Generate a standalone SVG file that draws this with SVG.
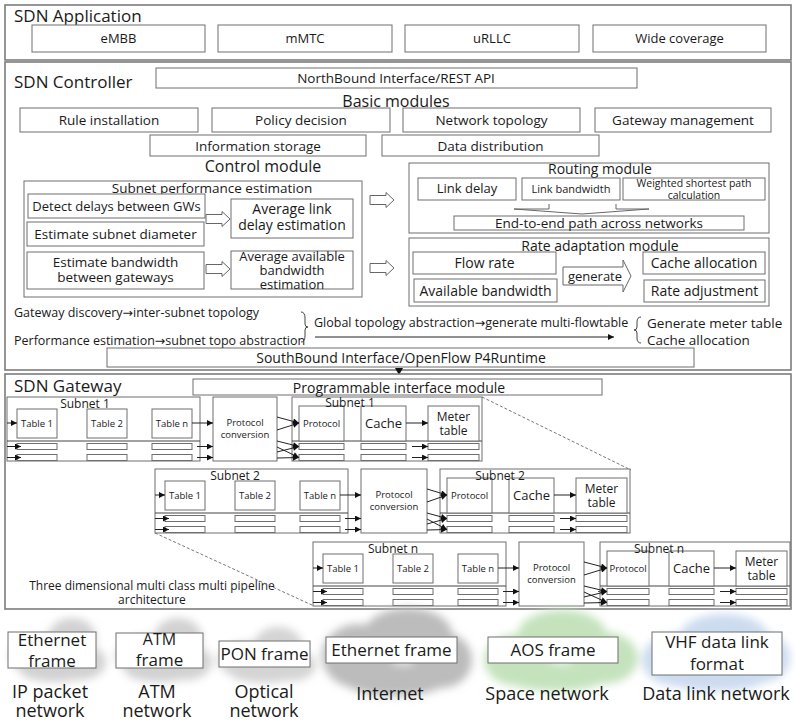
<svg xmlns="http://www.w3.org/2000/svg" width="796" height="724" viewBox="0 0 796 724">
<defs>
<style>
.t{font-family:"Open Sans","Noto Sans","DejaVu Sans",sans-serif;fill:#1a1a1a}
.m{text-anchor:middle}
.s9{font-size:9.5px}.s105{font-size:10.5px}.s11{font-size:11px}.s12{font-size:12px}.s125{font-size:12.5px}.s13{font-size:13px}.s135{font-size:13.5px}.s14{font-size:14px}.s16{font-size:16px}.s17{font-size:17px}.s18{font-size:18px}
.b{fill:#fff;stroke:#6e6e6e;stroke-width:1}
.panel{fill:#fff;stroke:#7c7c7c;stroke-width:1.6}
.ln{fill:none;stroke:#444;stroke-width:1}
.ar{fill:none;stroke:#222;stroke-width:1;marker-end:url(#ah)}
.hol{fill:#fff;stroke:#666;stroke-width:1}
.dash{fill:none;stroke:#777;stroke-width:1;stroke-dasharray:3 2}
</style>
<marker id="ah" viewBox="0 0 8 8" refX="8" refY="4" markerWidth="7" markerHeight="6" markerUnits="userSpaceOnUse" orient="auto"><path d="M0,0 L8,4 L0,8 Z" fill="#111"/></marker>
<path id="hollow" d="M0,-4.5 H16 V-7.5 L24,0 L16,7.5 V4.5 H0 Z"/>
<filter id="blur" x="-30%" y="-30%" width="160%" height="160%"><feGaussianBlur stdDeviation="4"/></filter>
</defs>
<rect width="796" height="724" fill="#fff"/>

<!-- SDN Application -->
<g id="sdn-application">
<rect class="panel" x="5" y="5" width="786" height="55"/>
<text class="t s17" x="14" y="22">SDN Application</text>
<g id="app-embb"><rect class="b" x="32" y="25" width="173" height="27"/><text class="t s13 m" x="118.5" y="43">eMBB</text></g>
<g id="app-mmtc"><rect class="b" x="218" y="25" width="174" height="27"/><text class="t s13 m" x="305" y="43">mMTC</text></g>
<g id="app-urllc"><rect class="b" x="405" y="25" width="174" height="27"/><text class="t s13 m" x="492" y="43">uRLLC</text></g>
<g id="app-wide"><rect class="b" x="593" y="25" width="173" height="27"/><text class="t s13 m" x="679.5" y="43">Wide coverage</text></g>
</g>

<!-- SDN Controller -->
<g id="sdn-controller">
<rect class="panel" x="5" y="62" width="786" height="308"/>
<text class="t s17" x="14" y="88">SDN Controller</text>
<g id="northbound"><rect class="b" x="156" y="68" width="481" height="20"/><text class="t s135 m" x="396" y="83">NorthBound Interface/REST API</text></g>
<text class="t s16 m" x="396" y="107">Basic modules</text>
<g id="rule-installation"><rect class="b" x="20" y="108" width="178" height="24"/><text class="t s135 m" x="109" y="125">Rule installation</text></g>
<g id="policy-decision"><rect class="b" x="212" y="108" width="178" height="24"/><text class="t s135 m" x="301" y="125">Policy decision</text></g>
<g id="network-topology"><rect class="b" x="403" y="108" width="177" height="24"/><text class="t s135 m" x="491.5" y="125">Network topology</text></g>
<g id="gateway-management"><rect class="b" x="595" y="108" width="176" height="24"/><text class="t s135 m" x="683" y="125">Gateway management</text></g>
<g id="information-storage"><rect class="b" x="150" y="135" width="216" height="21"/><text class="t s135 m" x="258" y="151">Information storage</text></g>
<g id="data-distribution"><rect class="b" x="382" y="135" width="217" height="21"/><text class="t s135 m" x="490.5" y="151">Data distribution</text></g>
<text class="t s16 m" x="263" y="172">Control module</text>

<g id="subnet-perf">
<rect class="b" x="24" y="181" width="338" height="116"/>
<text class="t s135 m" x="212" y="193">Subnet performance estimation</text>
<g id="detect-delays"><rect class="b" x="28" y="194" width="177" height="24"/><text class="t s13 m" x="116.5" y="211">Detect delays between GWs</text></g>
<g id="estimate-diameter"><rect class="b" x="27" y="222" width="177" height="24"/><text class="t s135 m" x="115.5" y="239">Estimate subnet diameter</text></g>
<g id="estimate-bandwidth"><rect class="b" x="27" y="252" width="177" height="37"/><text class="t s135 m" x="115.5" y="267">Estimate bandwidth</text><text class="t s135 m" x="115.5" y="282">between gateways</text></g>
<g id="avg-link-delay"><rect class="b" x="231" y="199" width="122" height="39"/><text class="t s14 m" x="292" y="214">Average link</text><text class="t s14 m" x="292" y="230">delay estimation</text></g>
<g id="avg-bandwidth"><rect class="b" x="231" y="251" width="122" height="38"/><text class="t s13 m" x="292" y="261">Average available</text><text class="t s13 m" x="292" y="275">bandwidth</text><text class="t s13 m" x="292" y="289">estimation</text></g>
</g>

<g id="routing-module">
<rect class="b" x="409" y="163" width="360" height="70"/>
<text class="t s14 m" x="600" y="174">Routing module</text>
<g id="link-delay"><rect class="b" x="418" y="178" width="98" height="22"/><text class="t s13 m" x="467" y="193">Link delay</text></g>
<g id="link-bandwidth"><rect class="b" x="522" y="178" width="98" height="22"/><text class="t s11 m" x="571" y="193">Link bandwidth</text></g>
<g id="weighted-path"><rect class="b" x="623" y="178" width="142" height="22"/><text class="t s105 m" x="694" y="187">Weighted shortest path</text><text class="t s105 m" x="694" y="199">calculation</text></g>
<g id="end-to-end"><rect class="b" x="454" y="216" width="290" height="14"/><text class="t s135 m" x="599" y="228">End-to-end path across networks</text></g>
</g>

<g id="rate-adaptation">
<rect class="b" x="409" y="238" width="360" height="68"/>
<text class="t s14 m" x="600" y="251">Rate adaptation module</text>
<g id="flow-rate"><rect class="b" x="413" y="252" width="143" height="22"/><text class="t s14 m" x="484.5" y="268">Flow rate</text></g>
<g id="available-bandwidth"><rect class="b" x="414" y="279" width="143" height="23"/><text class="t s14 m" x="485.5" y="296">Available bandwidth</text></g>
<g id="cache-allocation"><rect class="b" x="643" y="252" width="122" height="22"/><text class="t s14 m" x="704" y="268">Cache allocation</text></g>
<g id="rate-adjustment"><rect class="b" x="644" y="280" width="121" height="22"/><text class="t s14 m" x="704.5" y="296">Rate adjustment</text></g>
</g>

<g id="southbound"><rect class="b" x="107" y="348" width="587" height="19"/><text class="t s14 m" x="401" y="363">SouthBound Interface/OpenFlow P4Runtime</text></g>

<g id="controller-notes">
<text class="t s125" x="14" y="317">Gateway discovery→inter-subnet topology</text>
<text class="t s125" x="14" y="345">Performance estimation→subnet topo abstraction</text>
<text class="t s125" x="314" y="327">Global topology abstraction→generate multi-flowtable</text>
<text class="t s135" x="647" y="328">Generate meter table</text>
<text class="t s135" x="647" y="345">Cache allocation</text>
</g>
</g>

<!-- Controller connectors -->
<g id="controller-connectors">
<use href="#hollow" class="hol" x="206" y="219"/>
<use href="#hollow" class="hol" x="206" y="269"/>
<use href="#hollow" class="hol" x="370" y="200"/>
<use href="#hollow" class="hol" x="370" y="268"/>
<path class="hol" d="M549,204 V209 H514 L582,214 L649,209 H616 V204"/>
<path class="hol" d="M563,267 H623 V260 L631,276 L623,292 V285 H563 Z"/>
<text class="t s13 m" x="595" y="281">generate</text>
<path class="ln" d="M301,312 Q305,312 305,318 V324 Q305,327 308,327 Q305,327 305,330 V336 Q305,342 301,342" stroke="#111"/>
<path class="ln" d="M641,317 Q637,317 637,322 V327 Q637,330 634,330 Q637,330 637,333 V338 Q637,343 641,343" stroke="#111"/>
<path class="ar" d="M315,337 H614"/>
<path d="M395,368 L403,368 L399,375 Z" fill="#111"/>
</g>

<!-- SDN Gateway -->
<g id="sdn-gateway">
<rect class="panel" x="5" y="374" width="786" height="235"/>
<text class="t s17" x="14" y="392">SDN Gateway</text>
<g id="programmable-interface"><rect class="b" x="193" y="379" width="409" height="16"/><text class="t s14 m" x="399" y="393">Programmable interface module</text></g>
<text class="t s12 m" x="152" y="590">Three dimensional multi class multi pipeline</text>
<text class="t s12 m" x="152" y="604">architecture</text>
</g>

<g id="gateway-dashes">
<path class="dash" d="M482,397 L631,470"/>
<path class="dash" d="M155,533 L314,606"/>
</g>

<!-- Pipeline 1 -->
<g id="pipeline-1" transform="translate(7,397)">
<g id="p1-connectors">
<path class="ln" d="M0,49.5 H206 M0,60.5 H206 M285,49.5 H475 M285,60.5 H475"/>
<path class="ln" d="M50,26 H80 M120,26 H145 M337,26 H354"/>
</g>
<g id="p1-left"><rect class="b" x="0" y="0" width="193" height="64"/><path class="ln" d="M0,44 H193"/><text class="t s12 m" x="78" y="11">Subnet 1</text>
<rect class="b" x="10" y="12" width="40" height="29"/><text class="t s9 m" x="30" y="30">Table 1</text>
<rect class="b" x="80" y="12" width="40" height="29"/><text class="t s9 m" x="100" y="30">Table 2</text>
<rect class="b" x="145" y="12" width="40" height="29"/><text class="t s9 m" x="165" y="30">Table n</text>
<rect class="b" x="10" y="46.5" width="40" height="6"/><rect class="b" x="80" y="46.5" width="40" height="6"/><rect class="b" x="145" y="46.5" width="40" height="6"/>
<rect class="b" x="10" y="57.5" width="40" height="6"/><rect class="b" x="80" y="57.5" width="40" height="6"/><rect class="b" x="145" y="57.5" width="40" height="6"/></g>
<g id="p1-conversion"><rect class="b" x="206" y="0" width="64" height="64"/><text class="t s9 m" x="238" y="29">Protocol</text><text class="t s9 m" x="238" y="41">conversion</text></g>
<g id="p1-right"><rect class="b" x="285" y="0" width="190" height="64"/><path class="ln" d="M285,44 H475"/>
<rect class="b" x="292" y="9" width="45" height="35"/><text class="t s9 m" x="314.5" y="30">Protocol</text>
<rect class="b" x="354" y="9" width="45" height="35"/><text class="t s13 m" x="376.5" y="31">Cache</text>
<rect class="b" x="421" y="9" width="51" height="35"/><text class="t s12 m" x="446.5" y="24">Meter</text><text class="t s12 m" x="446.5" y="38">table</text>
<text class="t s12 m" x="343" y="10">Subnet 1</text>
<rect class="b" x="292" y="46.5" width="45" height="6"/><rect class="b" x="354" y="46.5" width="45" height="6"/><rect class="b" x="421" y="46.5" width="51" height="6"/>
<rect class="b" x="292" y="57.5" width="45" height="6"/><rect class="b" x="354" y="57.5" width="45" height="6"/><rect class="b" x="421" y="57.5" width="51" height="6"/></g>
<g id="p1-arrows">
<path class="ar" d="M0,26 H10"/><path class="ar" d="M185,26 H206"/><path class="ar" d="M399,26 H421"/>
<path class="ar" d="M0,49.5 H14"/><path class="ar" d="M0,60.5 H14"/><path class="ar" d="M190,49.5 H206"/><path class="ar" d="M190,60.5 H206"/>
<path class="ar" d="M270,20 L292,26"/><path class="ar" d="M270,33 L292,26"/>
<path class="ar" d="M270,44 L292,49.5"/><path class="ar" d="M270,55 L292,49.5"/><path class="ar" d="M270,50 L292,60.5"/><path class="ar" d="M270,61 L292,60.5"/>
<path class="ar" d="M405,49.5 H421"/><path class="ar" d="M405,60.5 H421"/>
</g>
</g>

<!-- Pipeline 2 -->
<g id="pipeline-2" transform="translate(155,469)">
<g id="p2-connectors">
<path class="ln" d="M0,49.5 H206 M0,60.5 H206 M285,49.5 H475 M285,60.5 H475"/>
<path class="ln" d="M50,26 H80 M120,26 H145 M337,26 H354"/>
</g>
<g id="p2-left"><rect class="b" x="0" y="0" width="193" height="64"/><path class="ln" d="M0,44 H193"/><text class="t s12 m" x="80" y="11">Subnet 2</text>
<rect class="b" x="10" y="12" width="40" height="29"/><text class="t s9 m" x="30" y="30">Table 1</text>
<rect class="b" x="80" y="12" width="40" height="29"/><text class="t s9 m" x="100" y="30">Table 2</text>
<rect class="b" x="145" y="12" width="40" height="29"/><text class="t s9 m" x="165" y="30">Table n</text>
<rect class="b" x="10" y="46.5" width="40" height="6"/><rect class="b" x="80" y="46.5" width="40" height="6"/><rect class="b" x="145" y="46.5" width="40" height="6"/>
<rect class="b" x="10" y="57.5" width="40" height="6"/><rect class="b" x="80" y="57.5" width="40" height="6"/><rect class="b" x="145" y="57.5" width="40" height="6"/></g>
<g id="p2-conversion"><rect class="b" x="206" y="0" width="66" height="64"/><text class="t s9 m" x="239" y="29">Protocol</text><text class="t s9 m" x="239" y="41">conversion</text></g>
<g id="p2-right"><rect class="b" x="285" y="0" width="190" height="64"/><path class="ln" d="M285,44 H475"/>
<rect class="b" x="292" y="9" width="45" height="35"/><text class="t s9 m" x="314.5" y="30">Protocol</text>
<rect class="b" x="354" y="9" width="45" height="35"/><text class="t s13 m" x="376.5" y="31">Cache</text>
<rect class="b" x="421" y="9" width="51" height="35"/><text class="t s12 m" x="446.5" y="24">Meter</text><text class="t s12 m" x="446.5" y="38">table</text>
<text class="t s12 m" x="345" y="11">Subnet 2</text>
<rect class="b" x="292" y="46.5" width="45" height="6"/><rect class="b" x="354" y="46.5" width="45" height="6"/><rect class="b" x="421" y="46.5" width="51" height="6"/>
<rect class="b" x="292" y="57.5" width="45" height="6"/><rect class="b" x="354" y="57.5" width="45" height="6"/><rect class="b" x="421" y="57.5" width="51" height="6"/></g>
<g id="p2-arrows">
<path class="ar" d="M0,26 H10"/><path class="ar" d="M185,26 H206"/><path class="ar" d="M399,26 H421"/>
<path class="ar" d="M0,49.5 H14"/><path class="ar" d="M0,60.5 H14"/><path class="ar" d="M190,49.5 H206"/><path class="ar" d="M190,60.5 H206"/>
<path class="ar" d="M272,20 L292,26"/><path class="ar" d="M272,33 L292,26"/>
<path class="ar" d="M272,44 L292,49.5"/><path class="ar" d="M272,55 L292,49.5"/><path class="ar" d="M272,50 L292,60.5"/><path class="ar" d="M272,61 L292,60.5"/>
<path class="ar" d="M405,49.5 H421"/><path class="ar" d="M405,60.5 H421"/>
</g>
</g>

<!-- Pipeline n -->
<g id="pipeline-n" transform="translate(313,542)">
<g id="pn-connectors">
<path class="ln" d="M0,49.5 H206 M0,60.5 H206 M285,49.5 H475 M285,60.5 H475"/>
<path class="ln" d="M50,26 H80 M120,26 H145 M337,26 H354"/>
</g>
<g id="pn-left"><rect class="b" x="0" y="0" width="193" height="64"/><path class="ln" d="M0,44 H193"/><text class="t s12 m" x="80" y="11">Subnet n</text>
<rect class="b" x="10" y="12" width="40" height="29"/><text class="t s9 m" x="30" y="30">Table 1</text>
<rect class="b" x="80" y="12" width="40" height="29"/><text class="t s9 m" x="100" y="30">Table 2</text>
<rect class="b" x="145" y="12" width="40" height="29"/><text class="t s9 m" x="165" y="30">Table n</text>
<rect class="b" x="10" y="46.5" width="40" height="6"/><rect class="b" x="80" y="46.5" width="40" height="6"/><rect class="b" x="145" y="46.5" width="40" height="6"/>
<rect class="b" x="10" y="57.5" width="40" height="6"/><rect class="b" x="80" y="57.5" width="40" height="6"/><rect class="b" x="145" y="57.5" width="40" height="6"/></g>
<g id="pn-conversion"><rect class="b" x="206" y="0" width="65" height="64"/><text class="t s9 m" x="238.5" y="29">Protocol</text><text class="t s9 m" x="238.5" y="41">conversion</text></g>
<g id="pn-right"><rect class="b" x="287" y="0" width="190" height="64"/><path class="ln" d="M287,44 H477"/>
<rect class="b" x="294" y="9" width="42" height="35"/><text class="t s9 m" x="315" y="30">Protocol</text>
<rect class="b" x="356" y="9" width="45" height="35"/><text class="t s13 m" x="378.5" y="31">Cache</text>
<rect class="b" x="423" y="9" width="51" height="35"/><text class="t s12 m" x="448.5" y="24">Meter</text><text class="t s12 m" x="448.5" y="38">table</text>
<text class="t s12 m" x="346" y="11">Subnet n</text>
<rect class="b" x="294" y="46.5" width="42" height="6"/><rect class="b" x="356" y="46.5" width="45" height="6"/><rect class="b" x="423" y="46.5" width="51" height="6"/>
<rect class="b" x="294" y="57.5" width="42" height="6"/><rect class="b" x="356" y="57.5" width="45" height="6"/><rect class="b" x="423" y="57.5" width="51" height="6"/></g>
<g id="pn-arrows">
<path class="ar" d="M0,26 H10"/><path class="ar" d="M185,26 H206"/><path class="ar" d="M401,26 H423"/>
<path class="ar" d="M0,49.5 H14"/><path class="ar" d="M0,60.5 H14"/><path class="ar" d="M190,49.5 H206"/><path class="ar" d="M190,60.5 H206"/>
<path class="ar" d="M271,20 L294,26"/><path class="ar" d="M271,33 L294,26"/>
<path class="ar" d="M271,44 L294,49.5"/><path class="ar" d="M271,55 L294,49.5"/><path class="ar" d="M271,50 L294,60.5"/><path class="ar" d="M271,61 L294,60.5"/>
<path class="ar" d="M407,49.5 H423"/><path class="ar" d="M407,60.5 H423"/>
</g>
</g>

<!-- Networks -->
<g id="clouds" filter="url(#blur)">
<g fill="#d2d2d2"><ellipse cx="40" cy="656" rx="30" ry="20"/><ellipse cx="72" cy="638" rx="24" ry="20"/><ellipse cx="80" cy="662" rx="26" ry="18"/><ellipse cx="55" cy="672" rx="34" ry="10"/></g>
<g fill="#d2d2d2"><ellipse cx="146" cy="656" rx="30" ry="20"/><ellipse cx="178" cy="638" rx="24" ry="20"/><ellipse cx="186" cy="662" rx="26" ry="18"/><ellipse cx="160" cy="672" rx="34" ry="10"/></g>
<g fill="#d4d4d4"><ellipse cx="248" cy="660" rx="30" ry="18"/><ellipse cx="278" cy="645" rx="24" ry="18"/><ellipse cx="292" cy="665" rx="24" ry="16"/><ellipse cx="265" cy="674" rx="34" ry="9"/></g>
<g fill="#bcbcbc"><ellipse cx="358" cy="656" rx="36" ry="32"/><ellipse cx="408" cy="634" rx="44" ry="26"/><ellipse cx="442" cy="660" rx="30" ry="28"/><ellipse cx="395" cy="680" rx="52" ry="16"/></g>
<g fill="#c4e3bd"><ellipse cx="518" cy="660" rx="34" ry="26"/><ellipse cx="562" cy="634" rx="44" ry="24"/><ellipse cx="604" cy="658" rx="34" ry="26"/><ellipse cx="556" cy="677" rx="52" ry="14"/></g>
<g fill="#ccdcef"><ellipse cx="676" cy="660" rx="34" ry="26"/><ellipse cx="724" cy="636" rx="44" ry="22"/><ellipse cx="764" cy="658" rx="26" ry="24"/><ellipse cx="716" cy="677" rx="52" ry="14"/></g>
</g>

<g id="net-ip">
<rect class="b" x="8" y="632" width="88" height="36"/><text class="t s17 m" x="52" y="646">Ethernet</text><text class="t s17 m" x="52" y="667">frame</text>
<text class="t s18 m" x="50" y="698">IP packet</text><text class="t s18 m" x="50" y="717">network</text>
</g>
<g id="net-atm">
<rect class="b" x="116" y="633" width="87" height="35"/><text class="t s16 m" x="159.5" y="645">ATM</text><text class="t s17 m" x="159.5" y="666">frame</text>
<text class="t s18 m" x="157" y="698">ATM</text><text class="t s18 m" x="157" y="717">network</text>
</g>
<g id="net-optical">
<rect class="b" x="219" y="641" width="91" height="26"/><text class="t s17 m" x="264.5" y="660">PON frame</text>
<text class="t s18 m" x="264" y="698">Optical</text><text class="t s18 m" x="264" y="717">network</text>
</g>
<g id="net-internet">
<rect class="b" x="326" y="637" width="131" height="26"/><text class="t s17 m" x="391.5" y="656">Ethernet frame</text>
<text class="t s18 m" x="390" y="700">Internet</text>
</g>
<g id="net-space">
<rect class="b" x="488" y="637" width="130" height="26"/><text class="t s17 m" x="553" y="656">AOS frame</text>
<text class="t s18 m" x="547" y="700">Space network</text>
</g>
<g id="net-datalink">
<rect class="b" x="652" y="632" width="130" height="43"/><text class="t s17 m" x="717" y="648">VHF data link</text><text class="t s17 m" x="717" y="670">format</text>
<text class="t s18 m" x="716" y="700">Data link network</text>
</g>
</svg>
